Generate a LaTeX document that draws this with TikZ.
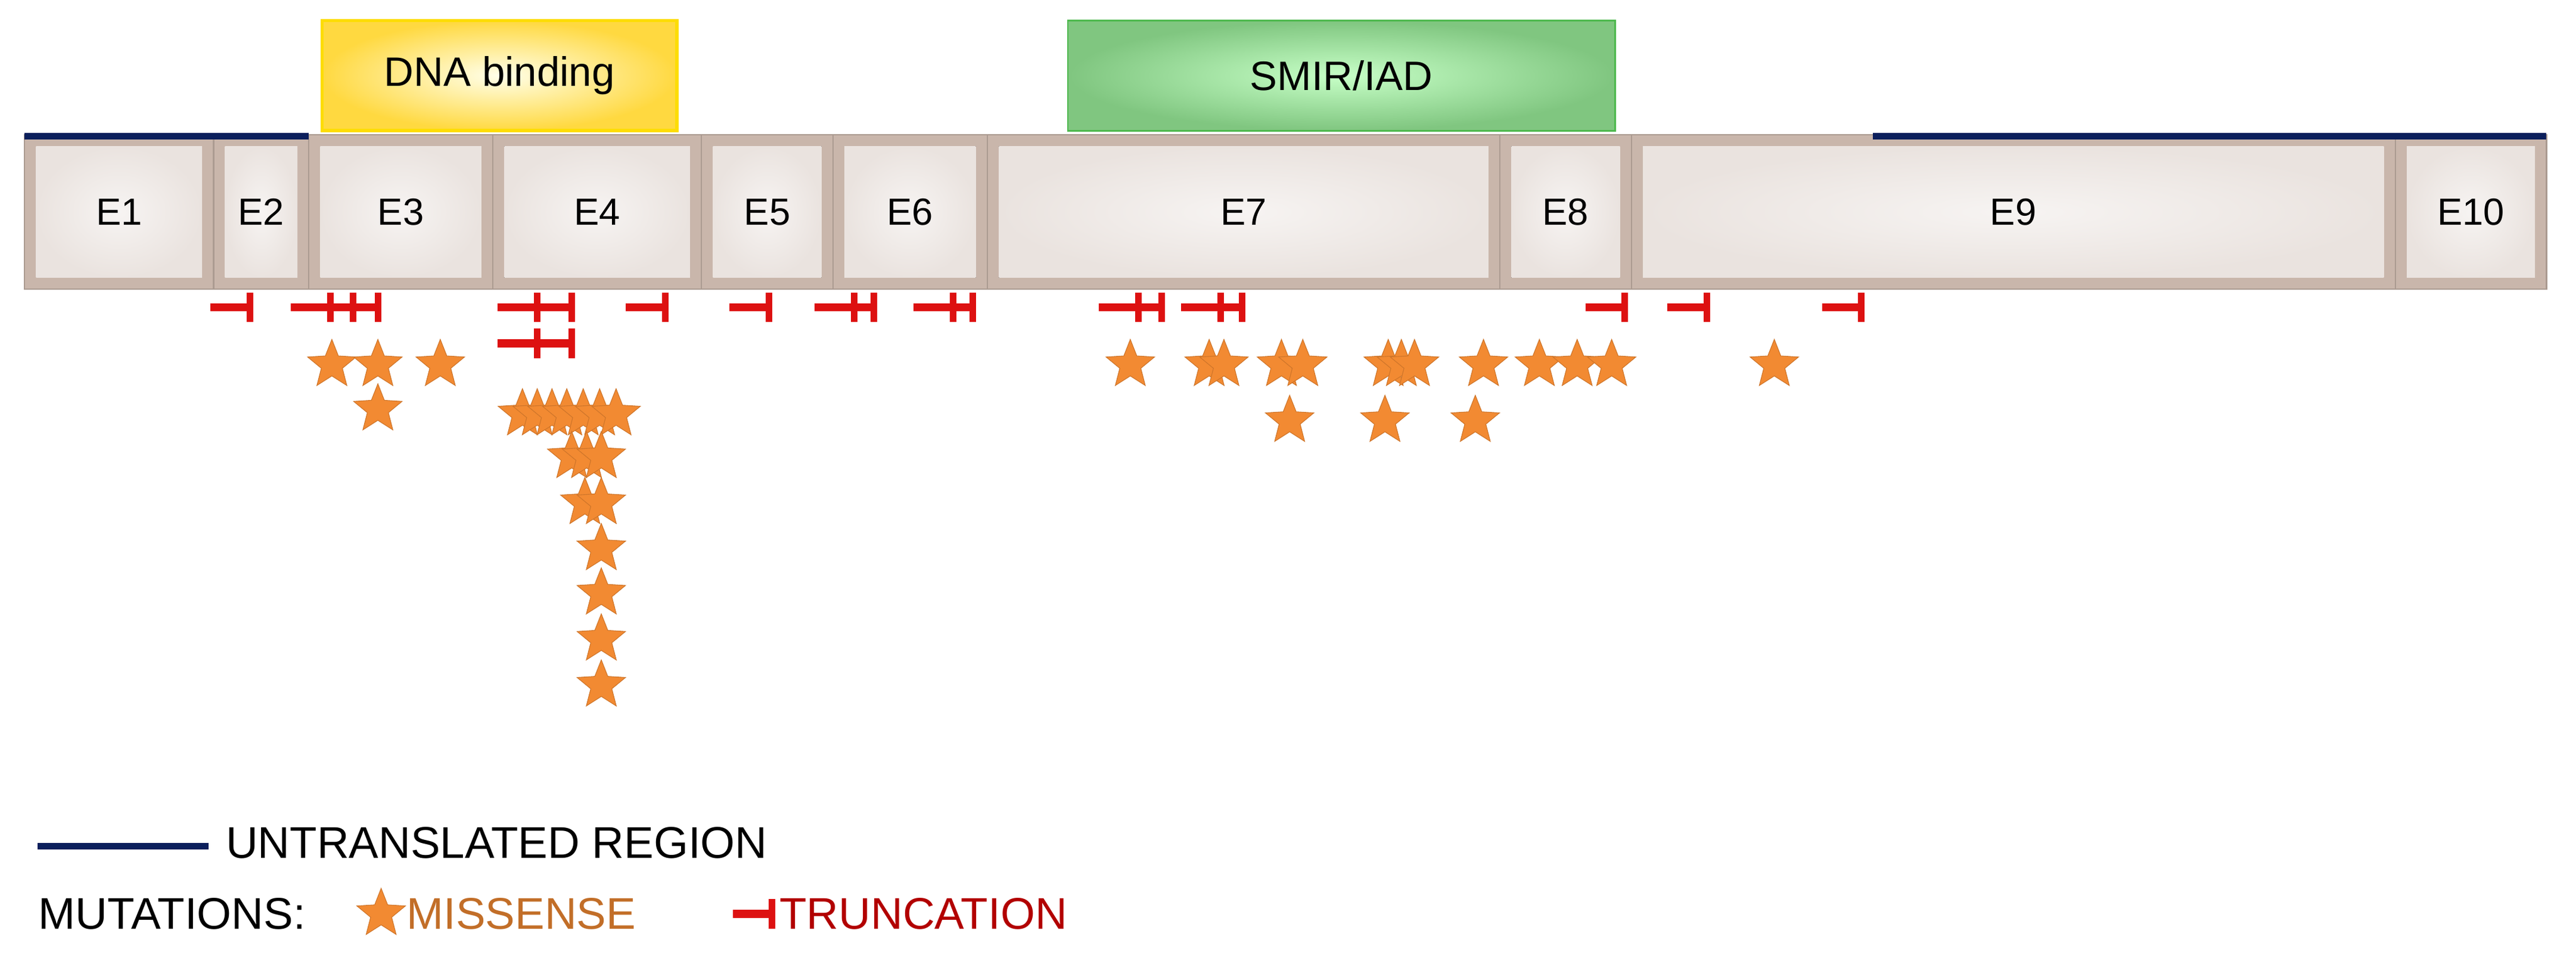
\documentclass[tikz,border=0pt]{standalone}
\usepackage{fontspec}
\setmainfont{Liberation Sans}
\usetikzlibrary{shapes.geometric}
\definecolor{exedge}{HTML}{C9B6AB}
\definecolor{exin}{HTML}{EAE3DF}
\definecolor{utr}{HTML}{0B1F5C}
\definecolor{trc}{HTML}{DD1111}
\definecolor{stc}{HTML}{F28A32}
\tikzset{
 exon/.style={fill=exedge,draw=exedge!85!black,line width=0.8pt,font=\fontsize{23}{23}\selectfont},
 star5/.style={star,star points=5,star point ratio=2.3,minimum size=31pt,inner sep=0pt,fill=stc,draw=stc!85!black,line width=0.4pt},
 tr/.style={draw=trc,line width=5pt},
 trv/.style={draw=trc,line width=4pt},
 leg/.style={anchor=west,font=\fontsize{27}{27}\selectfont},
}
\newcommand{\trunc}[2]{\draw[tr] (#1-24,#2)--(#1,#2); \draw[trv] (#1,#2-9)--(#1,#2+9);}
\newcommand{\mstar}[2]{\node[star5] at (#1,#2) {};}
\begin{document}
\begin{tikzpicture}[x=1pt,y=-1pt]
\useasboundingbox (0,0) rectangle (1568,581);
% domains
\node[draw=yellow!80!orange,line width=2pt,inner color=yellow!8,outer color=yellow!60!orange!75,minimum width=216pt,minimum height=67pt,font=\fontsize{25}{25}\selectfont] (dna) at (304,46) {DNA binding};
\node[draw=green!60!black!70,line width=1pt,inner color=green!22!white,outer color=green!55!black!50!white,minimum width=333pt,minimum height=67pt,font=\fontsize{25}{25}\selectfont] (smir) at (816.5,46) {SMIR/IAD};
% exons
\foreach \a/\b/\n in {15/130/1,130/188/2,188/300/3,300/427/4,427/507/5,507/601/6,601/913/7,913/993/8,993/1458/9,1458/1550/10}{
 \node[exon,minimum width={\b-\a},minimum height=94pt,inner sep=0pt] (e\n) at ({(\a+\b)/2},129) {};
 \fill[inner color=white!60!exin,outer color=exin] ({\a+7},89) rectangle ({\b-7},169);
 \node[font=\fontsize{23}{23}\selectfont] at (e\n) {E\n};
}
% UTR
\draw[utr,line width=4pt] (15,83)--(188,83);
\draw[utr,line width=4pt] (1140,83)--(1550,83);
% truncations
\foreach \x in {152,201,215,230,327,348,405,468,520,532,580,592,693,707,743,756,989,1039,1133}{\trunc{\x}{187}}
\trunc{327}{209}\trunc{348}{209}
% stars
\foreach \x in {202,230,268,688,736,745,780,793,845,853,861,903,937,960,981,1080}{\mstar{\x}{222}}
\foreach \x in {785,843,898}{\mstar{\x}{256}}
\mstar{230}{249}
\foreach \x in {318,327,336,345,355,365,375}{\mstar{\x}{252}}
\foreach \x in {348,357,366}{\mstar{\x}{278}}
\foreach \x in {356,366}{\mstar{\x}{306}}
\foreach \y in {334,361,389,417}{\mstar{366}{\y}}
% legend
\draw[utr,line width=4pt] (23,515)--(127,515);
\node[leg] (lu) at (134,513) {UNTRANSLATED REGION};
\node[leg] (lm) at (20,556) {MUTATIONS:};
\node[star5] (ls) at (232,556) {};
\node[leg,text=stc!80!black] (lmis) at (244,556) {MISSENSE};
\trunc{470}{556}
\node[leg,text=red!70!black] (ltr) at (471,556) {TRUNCATION};
\end{tikzpicture}
\end{document}
